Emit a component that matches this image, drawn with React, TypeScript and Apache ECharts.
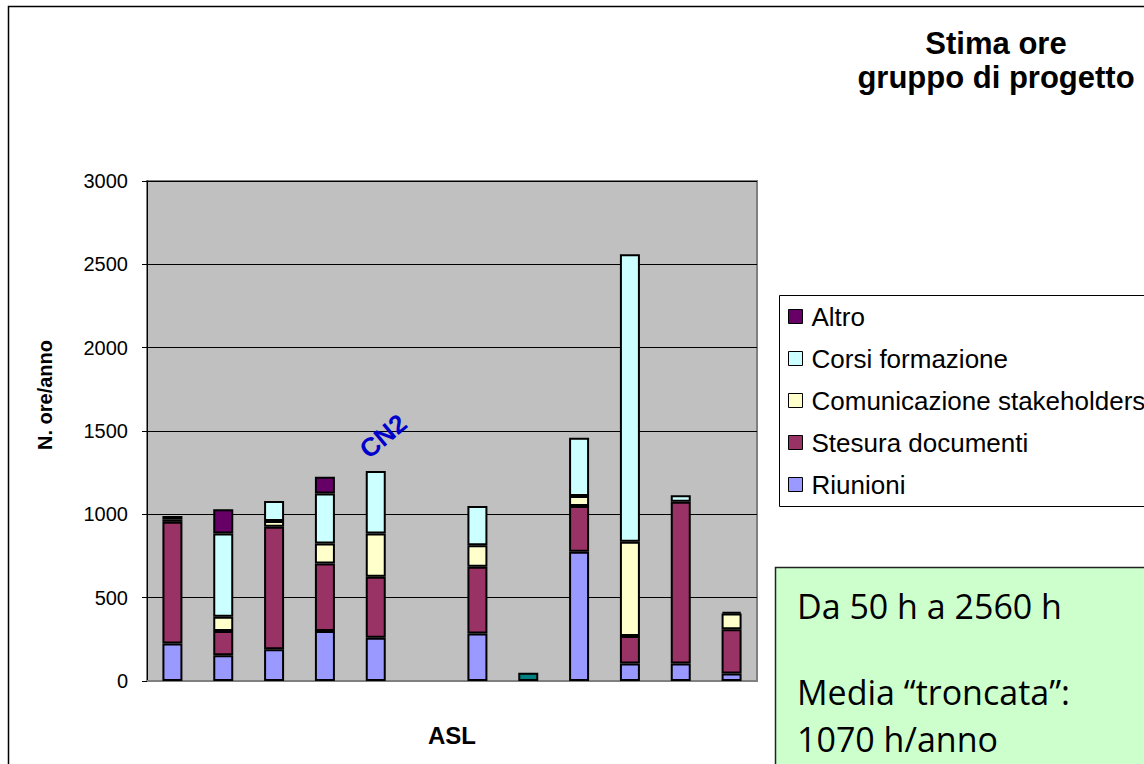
import React, { useEffect, useRef } from "react";
import * as echarts from "echarts";

const categories = ["1", "2", "3", "4", "CN2", "6", "7", "8", "9", "10", "11", "12"];
const riunioni = [225, 155, 190, 300, 260, null, 285, 50, 775, 105, 105, 45];
const stesura = [730, 145, 735, 405, 365, null, 400, null, 275, 165, 970, 265];
const comunicazione = [15, 85, 35, 120, 260, null, 130, null, 60, 565, null, 95];
const corsi = [20, 500, 120, 300, 375, null, 235, null, 350, 1725, 40, null];
const altro = [null, 145, null, 100, null, null, null, null, null, null, null, 10];
const yTicks = { min: 0, max: 3000, interval: 500 };
const highlightIndex = 4; // CN2
const lowIndex = 7; // teal bar (50 h)

const FONT = "'Liberation Sans', Arial, sans-serif";
const BOX_FONT = "34px 'Open Sans', sans-serif";

export default function App() {
  const ref = useRef<HTMLDivElement>(null);
  useEffect(() => {
    if (!ref.current) return;
    const chart = echarts.init(ref.current, null, { renderer: "svg" });
    const border = { borderColor: "#000", borderWidth: 2 };
    const mk = (name: string, data: any[], color: string) => ({
      name,
      type: "bar",
      stack: "t",
      barWidth: 20,
      data,
      itemStyle: { color, ...border },
      emphasis: { disabled: true },
    });
    chart.setOption({
      animation: false,
      backgroundColor: "#fff",
      textStyle: { fontFamily: FONT },
      title: {
        text: "Stima ore\ngruppo di progetto",
        left: 991,
        top: 21,
        textAlign: "center",
        textStyle: { fontSize: 31, fontWeight: "bold", color: "#000", lineHeight: 34, fontFamily: FONT },
      },
      legend: {
        orient: "vertical",
        left: 788,
        top: 302,
        padding: 0,
        itemWidth: 14,
        itemHeight: 14,
        itemGap: 13,
        icon: "rect",
        itemStyle: { borderColor: "#000", borderWidth: 1 },
        textStyle: { fontSize: 26, color: "#000", lineHeight: 29, fontFamily: FONT, padding: [0, 0, 0, 4] },
        data: ["Altro", "Corsi formazione", "Comunicazione stakeholders", "Stesura documenti", "Riunioni"],
      },
      grid: {
        left: 147,
        top: 181,
        width: 610,
        height: 500,
        show: true,
        backgroundColor: "#C0C0C0",
        borderColor: "#808080",
        borderWidth: 2,
      },
      xAxis: {
        type: "category",
        data: categories,
        name: "ASL",
        nameLocation: "middle",
        nameGap: 42,
        nameTextStyle: { fontSize: 24, fontWeight: "bold", color: "#000", fontFamily: FONT },
        axisLine: { show: true, lineStyle: { color: "#808080", width: 2 } },
        axisTick: { show: false },
        axisLabel: { show: false },
      },
      yAxis: {
        type: "value",
        min: yTicks.min,
        max: yTicks.max,
        interval: yTicks.interval,
        axisLine: { show: true, lineStyle: { color: "#000", width: 1 } },
        axisTick: { show: true, length: 5, lineStyle: { color: "#000" } },
        axisLabel: { fontSize: 20, color: "#000", margin: 19, fontFamily: FONT, formatter: (v: number) => String(v) },
        splitLine: { show: true, lineStyle: { color: "#000", width: 1 } },
      },
      series: [
        mk(
          "Riunioni",
          riunioni.map((v, i) => (i === lowIndex ? { value: v, itemStyle: { color: "#008080" } } : v)),
          "#9999FF"
        ),
        mk("Stesura documenti", stesura, "#993366"),
        mk("Comunicazione stakeholders", comunicazione, "#FFFFCC"),
        mk(
          "Corsi formazione",
          corsi.map((v, i) =>
            i === highlightIndex
              ? {
                  value: v,
                  label: {
                    show: true,
                    position: "top",
                    distance: 0,
                    formatter: () => categories[highlightIndex],
                    rotate: 40,
                    align: "center",
                    verticalAlign: "middle",
                    offset: [28, -22],
                    color: "#0000CC",
                    fontSize: 26,
                    fontWeight: "bold",
                    fontFamily: FONT,
                  },
                }
              : v
          ),
          "#CCFFFF"
        ),
        mk("Altro", altro, "#660066"),
      ],
      graphic: [
        {
          type: "rect",
          shape: { x: 8.5, y: 6.5, width: 1200, height: 800 },
          style: { fill: "none", stroke: "#000", lineWidth: 1.5 },
          z: -10,
        },
        {
          type: "text",
          x: 45,
          y: 395,
          rotation: Math.PI / 2,
          style: {
            text: "N. ore/anno",
            font: `bold 20px ${FONT}`,
            fill: "#000",
            align: "center",
            verticalAlign: "middle",
          },
        },
        {
          type: "rect",
          shape: { x: 779.5, y: 295.5, width: 420, height: 211 },
          style: { fill: "none", stroke: "#000", lineWidth: 1 },
        },
        {
          type: "rect",
          shape: { x: 775.5, y: 567.5, width: 420, height: 240 },
          style: { fill: "#CCFFCC", stroke: "#222", lineWidth: 1.5 },
        },
        {
          type: "text",
          x: 797,
          y: 606,
          style: { text: "Da 50 h a 2560 h", font: BOX_FONT, fill: "#000", verticalAlign: "middle" },
        },
        {
          type: "text",
          x: 797,
          y: 692,
          style: { text: "Media “troncata”:", font: BOX_FONT, fill: "#000", verticalAlign: "middle" },
        },
        {
          type: "text",
          x: 797,
          y: 739,
          style: { text: "1070 h/anno", font: BOX_FONT, fill: "#000", verticalAlign: "middle" },
        },
      ],
    });
    return () => chart.dispose();
  }, []);
  return <div ref={ref} style={{ position: "fixed", left: 0, top: 0, width: 1144, height: 764 }} />;
}
